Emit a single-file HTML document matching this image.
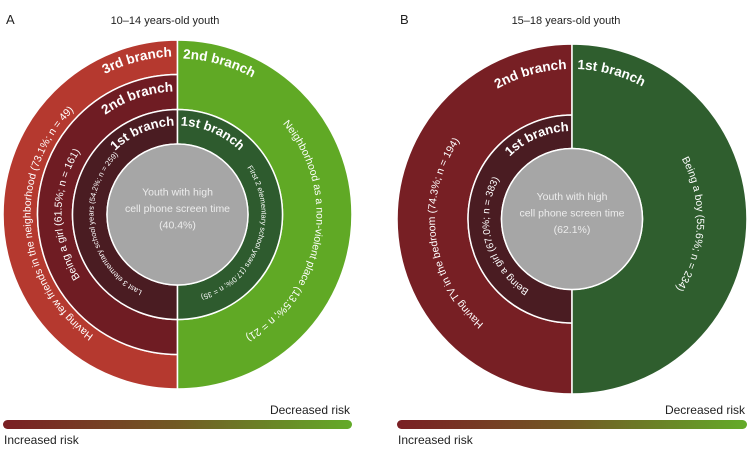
<!DOCTYPE html>
<html><head><meta charset="utf-8"><style>
html,body{margin:0;padding:0;background:#fff;}
svg text{font-family:"Liberation Sans",Arial,sans-serif;}
</style></head><body>
<svg id="chart" width="750" height="449" viewBox="0 0 750 449" xmlns="http://www.w3.org/2000/svg">
<defs>
<linearGradient id="riskGrad" x1="0" x2="1" y1="0" y2="0">
<stop offset="0" stop-color="#7a1f24"/><stop offset="0.5" stop-color="#725a24"/><stop offset="1" stop-color="#63ab29"/>
</linearGradient>
</defs>
<g id="root"></g>
</svg>
<script>
// Panel A (10-14) data
const aBranches = ["3rd branch","2nd branch","1st branch","2nd branch","1st branch"];
const aLabels = ["Having few friends in the neighborhood","Being a girl","Last 3 elementary school years","Neighborhood as a non-violent place","First 2 elementary school years"];
const aPct = [73.1, 61.5, 54.2, 13.5, 17.0];
const aN = [49, 161, 259, 21, 35];
const aCenterPct = 40.4;
// Panel B (15-18) data
const bBranches = ["2nd branch","1st branch","1st branch"];
const bLabels = ["Having TV in the bedroom","Being a girl","Being a boy"];
const bPct = [74.3, 67.0, 55.6];
const bN = [194, 383, 234];
const bCenterPct = 62.1;

const NS="http://www.w3.org/2000/svg";
const root=document.getElementById('root');
let pid=0;
function el(tag,attrs,parent){const e=document.createElementNS(NS,tag);for(const k in attrs)e.setAttribute(k,attrs[k]);(parent||root).appendChild(e);return e;}
function pt(cx,cy,r,a){const t=a*Math.PI/180;return [cx+r*Math.sin(t),cy-r*Math.cos(t)];}
function wedge(cx,cy,r0,r1,a0,a1){
  const p1=pt(cx,cy,r1,a0),p2=pt(cx,cy,r1,a1),p3=pt(cx,cy,r0,a1),p4=pt(cx,cy,r0,a0);
  const lg=(a1-a0)>180?1:0;
  return `M${p1[0]},${p1[1]} A${r1},${r1} 0 ${lg} 1 ${p2[0]},${p2[1]} L${p3[0]},${p3[1]} A${r0},${r0} 0 ${lg} 0 ${p4[0]},${p4[1]} Z`;
}
function arcText(cx,cy,r,a0,a1,txt,size,weight,anchor,offset,name){
  const id='arc'+(pid++);
  const p1=pt(cx,cy,r,a0),p2=pt(cx,cy,r,a1);
  const lg=(a1-a0)>180?1:0;
  el('path',{id:id,d:`M${p1[0]},${p1[1]} A${r},${r} 0 ${lg} 1 ${p2[0]},${p2[1]}`,fill:'none',stroke:'none'});
  const t=el('text',{fill:'#fff','font-size':size,'font-weight':weight});
  
  
  const tp=el('textPath',{href:'#'+id,startOffset:offset,'text-anchor':anchor},t);
  tp.textContent=txt;
}
function ring(cx,cy,r0,r1,a0,a1,fill,name){
  const p=el('path',{d:wedge(cx,cy,r0,r1,a0,a1),fill:fill,stroke:'#fff','stroke-width':1.5});
  
  
}
function lbl(label,pct,n){return `${label} (${pct.toFixed(1)}%; n = ${n})`;}
function center(cx,cy,pct,name){
  const c=el('circle',{cx:cx,cy:cy,r:70.5,fill:'#a6a6a6',stroke:'#fff','stroke-width':1.5});
  
  
  const lines=["Youth with high","cell phone screen time",`(${pct.toFixed(1)}%)`];
  lines.forEach((s,i)=>{const t=el('text',{x:cx,y:cy-19+i*16.5,'text-anchor':'middle','font-size':10.5,fill:'#ececec'});t.textContent=s;
    
    });
}
function plain(x,y,s,size,anchor,name,fill){const t=el('text',{x:x,y:y,'font-size':size,'text-anchor':anchor||'start',fill:fill||'#222'});t.textContent=s;
  
  return t;}
function legend(x,w,name){
  const r=el('rect',{x:x,y:420,width:w,height:9,rx:4.5,fill:'url(#riskGrad)'});
  
  
  plain(x+w-2,414,'Decreased risk',12,'end',name+'-decreased-label');
  plain(x+1,444,'Increased risk',12,'start',name+'-increased-label');
}

// ---------- Panel A ----------
{
const cx=177.5,cy=214.5;
ring(cx,cy,140,174.5,180,360,'#b5392f','a-3rd-branch-ring');
ring(cx,cy,105,140,180,360,'#6f1c23','a-2nd-branch-ring');
ring(cx,cy,70.5,105,180,360,'#4a1c22','a-1st-branch-ring-left');
ring(cx,cy,105,174.5,0,180,'#60a925','a-2nd-branch-ring-right');
ring(cx,cy,70.5,105,0,180,'#2e5b2e','a-1st-branch-ring-right');
center(cx,cy,aCenterPct,'a-center-circle');
arcText(cx,cy,158,-80,-2,aBranches[0],13.5,'bold','end','100%','a-3rd-branch-label');
arcText(cx,cy,123,-80,-2,aBranches[1],13.5,'bold','end','100%','a-2nd-branch-label-left');
arcText(cx,cy,89,-80,-2,aBranches[2],13,'bold','end','100%','a-1st-branch-label-left');
arcText(cx,cy,156,2,80,aBranches[3],13.5,'bold','start','0%','a-2nd-branch-label-right');
arcText(cx,cy,89,2,80,aBranches[4],13,'bold','start','0%','a-1st-branch-label-right');
arcText(cx,cy,147,-175,-15,lbl(aLabels[0],aPct[0],aN[0]),10.5,'normal','middle','50%','a-friends-label');
arcText(cx,cy,116,-170,-10,lbl(aLabels[1],aPct[1],aN[1]),10.5,'normal','middle','50%','a-girl-label');
arcText(cx,cy,84,-190,-10,lbl(aLabels[2],aPct[2],aN[2]),7.5,'normal','middle','50%','a-last3-label');
arcText(cx,cy,139,20,180,lbl(aLabels[3],aPct[3],aN[3]),10.5,'normal','middle','50%','a-neighborhood-label');
arcText(cx,cy,84,20,200,lbl(aLabels[4],aPct[4],aN[4]),7.5,'normal','middle','50%','a-first2-label');
plain(6,24,'A',13,'start','a-panel-letter');
plain(165,24,'10–14 years-old youth',11,'middle','a-panel-title');
legend(3,349,'a-legend');
}
// ---------- Panel B ----------
{
const cx=572,cy=219;
ring(cx,cy,104,175,180,360,'#771f24','b-2nd-branch-ring');
ring(cx,cy,70.5,104,180,360,'#4a1c22','b-1st-branch-ring-left');
ring(cx,cy,70.5,175,0,180,'#2f5e2e','b-1st-branch-ring-right');
center(cx,cy,bCenterPct,'b-center-circle');
arcText(cx,cy,150,-80,-2,bBranches[0],13.5,'bold','end','100%','b-2nd-branch-label');
arcText(cx,cy,88,-80,-2,bBranches[1],13,'bold','end','100%','b-1st-branch-label-left');
arcText(cx,cy,150,2,80,bBranches[2],13.5,'bold','start','0%','b-1st-branch-label-right');
arcText(cx,cy,137,-180,-15,lbl(bLabels[0],bPct[0],bN[0]),10.5,'normal','middle','50%','b-tv-label');
arcText(cx,cy,83,-185,-25,lbl(bLabels[1],bPct[1],bN[1]),10,'normal','middle','50%','b-girl-label');
arcText(cx,cy,125,10,175,lbl(bLabels[2],bPct[2],bN[2]),10.5,'normal','middle','50%','b-boy-label');
plain(400,24,'B',13,'start','b-panel-letter');
plain(566,24,'15–18 years-old youth',11,'middle','b-panel-title');
legend(397,350,'b-legend');
}
</script>
</body></html>
